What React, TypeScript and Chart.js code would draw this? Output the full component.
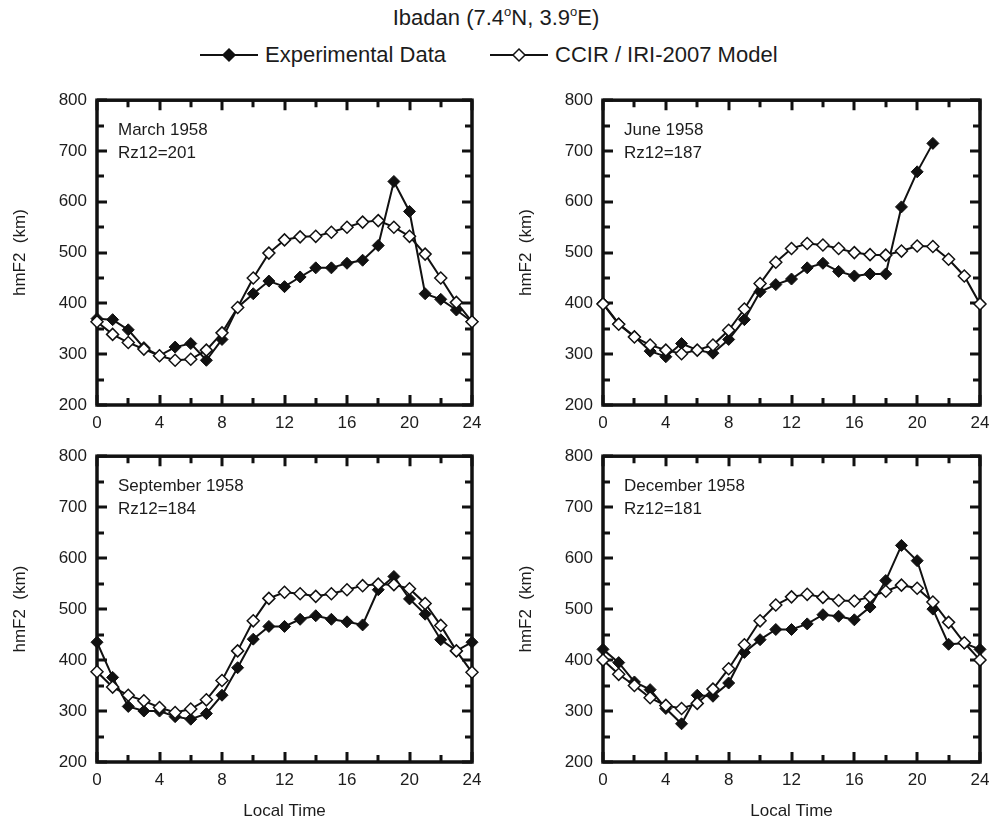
import React, { useEffect, useRef } from "react";
import { Chart, registerables } from "chart.js";

Chart.register(...registerables);

const hours = [0, 1, 2, 3, 4, 5, 6, 7, 8, 9, 10, 11, 12, 13, 14, 15, 16, 17, 18, 19, 20, 21, 22, 23, 24];

const marchExp = [370, 368, 348, 313, 297, 314, 321, 288, 329, 392, 419, 444, 433, 452, 470, 470, 479, 485, 514, 640, 581, 419, 408, 387, 364];
const marchModel = [364, 339, 323, 310, 297, 288, 290, 308, 342, 392, 450, 499, 525, 531, 532, 540, 550, 560, 563, 550, 532, 497, 450, 402, 364];

const juneExp = [400, 360, 335, 306, 295, 321, 308, 302, 329, 368, 423, 437, 448, 470, 479, 463, 454, 458, 458, 590, 659, 715];
const juneModel = [399, 359, 334, 318, 308, 301, 308, 318, 347, 389, 439, 481, 508, 518, 515, 508, 500, 496, 495, 503, 513, 512, 487, 454, 399];

const septExp = [435, 366, 309, 300, 300, 289, 284, 295, 331, 385, 441, 466, 466, 480, 487, 480, 475, 469, 538, 564, 520, 490, 440, 418, 435];
const septModel = [377, 347, 331, 320, 307, 297, 304, 322, 360, 418, 477, 521, 533, 530, 525, 530, 538, 546, 549, 548, 540, 511, 468, 418, 376];

const decExp = [421, 395, 357, 342, 305, 275, 331, 329, 355, 415, 440, 460, 460, 471, 489, 486, 479, 504, 556, 625, 595, 500, 431, 433, 421];
const decModel = [400, 372, 350, 326, 311, 305, 315, 343, 383, 430, 477, 508, 524, 529, 523, 517, 516, 524, 535, 547, 541, 514, 474, 434, 400];

const xMin = 0;
const xMax = 24;
const xStep = 4;
const xMinorStep = 2;
const yMin = 200;
const yMax = 800;
const yStep = 100;
const yMinorStep = 50;

const INK = "#111111";
const TXT = "#1c1c1c";
const FAMILY = "'Liberation Sans', Arial, Helvetica, sans-serif";

type PanelCfg = {
  name: string;
  rz: string;
  exp: number[];
  model: number[];
  left: number;
  top: number;
  plotW: number;
  plotH: number;
  bottom: boolean;
};

const panels: PanelCfg[] = [
  { name: "March 1958", rz: "Rz12=201", exp: marchExp, model: marchModel, left: 0, top: 80, plotW: 375, plotH: 310, bottom: false },
  { name: "June 1958", rz: "Rz12=187", exp: juneExp, model: juneModel, left: 506, top: 80, plotW: 377, plotH: 310, bottom: false },
  { name: "September 1958", rz: "Rz12=184", exp: septExp, model: septModel, left: 0, top: 436, plotW: 375, plotH: 311, bottom: true },
  { name: "December 1958", rz: "Rz12=181", exp: decExp, model: decModel, left: 506, top: 436, plotW: 377, plotH: 311, bottom: true },
];

const PAD_TOP = 15;
const PAD_RIGHT = 20;
const Y_AXIS_W = 97;

const framePlugin = {
  id: "frameTicks",
  beforeDatasetsDraw(chart: any) {
    const ctx = chart.ctx;
    const a = chart.chartArea;
    const xs = chart.scales.x;
    const ys = chart.scales.y;
    ctx.save();
    ctx.strokeStyle = INK;
    ctx.lineWidth = 3;
    for (let h = xMin; h <= xMax; h += xMinorStep) {
      const px = Math.round(xs.getPixelForValue(h));
      const len = h % xStep === 0 ? 10 : 7;
      ctx.beginPath();
      ctx.moveTo(px, a.bottom);
      ctx.lineTo(px, a.bottom - len);
      ctx.moveTo(px, a.top);
      ctx.lineTo(px, a.top + len);
      ctx.stroke();
    }
    for (let v = yMin; v <= yMax; v += yMinorStep) {
      const py = Math.round(ys.getPixelForValue(v));
      const len = v % yStep === 0 ? 10 : 7;
      ctx.beginPath();
      ctx.moveTo(a.left, py);
      ctx.lineTo(a.left + len, py);
      ctx.moveTo(a.right, py);
      ctx.lineTo(a.right - len, py);
      ctx.stroke();
    }
    ctx.lineWidth = 3.5;
    ctx.strokeRect(a.left, a.top, a.right - a.left, a.bottom - a.top);
    ctx.restore();
  },
};

function Panel({ cfg }: { cfg: PanelCfg }) {
  const ref = useRef<HTMLCanvasElement>(null);
  const width = Y_AXIS_W + cfg.plotW + PAD_RIGHT;
  const xH = cfg.bottom ? 60 : 30;
  const height = PAD_TOP + cfg.plotH + xH;

  useEffect(() => {
    const canvas = ref.current;
    if (!canvas) return;
    const chart = new Chart(canvas, {
      type: "line",
      data: {
        datasets: [
          {
            label: "CCIR / IRI-2007 Model",
            data: cfg.model.map((v, i) => ({ x: hours[i], y: v })),
            order: 1,
            borderColor: INK,
            borderWidth: 2,
            pointStyle: "rectRot",
            pointRadius: 6,
            pointBackgroundColor: "#ffffff",
            pointBorderColor: INK,
            pointBorderWidth: 1.5,
            tension: 0,
            clip: false,
          } as any,
          {
            label: "Experimental Data",
            data: cfg.exp.map((v, i) => ({ x: hours[i], y: v })),
            order: 2,
            borderColor: INK,
            borderWidth: 2,
            pointStyle: "rectRot",
            pointRadius: 6,
            pointBackgroundColor: INK,
            pointBorderColor: INK,
            pointBorderWidth: 1,
            tension: 0,
            clip: false,
          } as any,
        ],
      },
      options: {
        responsive: false,
        animation: false,
        devicePixelRatio: 1,
        layout: { padding: { top: PAD_TOP, right: PAD_RIGHT, left: 0, bottom: 0 } },
        plugins: { legend: { display: false }, tooltip: { enabled: false }, title: { display: false } },
        scales: {
          x: {
            type: "linear",
            min: xMin,
            max: xMax,
            ticks: {
              stepSize: xStep,
              padding: 8,
              color: TXT,
              font: { size: 17, family: FAMILY },
              maxRotation: 0,
              autoSkip: false,
            },
            grid: { display: false, drawTicks: false },
            border: { display: false },
            title: cfg.bottom
              ? { display: true, text: "Local Time", color: TXT, font: { size: 17, family: FAMILY }, padding: { top: 0, bottom: 0 } }
              : { display: false },
            afterFit: (s: any) => {
              s.height = xH;
            },
          },
          y: {
            type: "linear",
            min: yMin,
            max: yMax,
            ticks: {
              stepSize: yStep,
              padding: 10,
              color: TXT,
              font: { size: 17, family: FAMILY },
            },
            grid: { display: false, drawTicks: false },
            border: { display: false },
            title: {
              display: true,
              text: "hmF2  (km)",
              color: TXT,
              font: { size: 17, family: FAMILY },
              padding: { top: 10, bottom: 0 },
            },
            afterFit: (s: any) => {
              s.width = Y_AXIS_W;
            },
          },
        },
      } as any,
      plugins: [framePlugin],
    });
    return () => chart.destroy();
  }, [cfg]);

  const plotLeft = cfg.left + Y_AXIS_W;
  const plotTop = cfg.top + PAD_TOP;

  return (
    <>
      <canvas
        ref={ref}
        width={width}
        height={height}
        style={{ position: "absolute", left: cfg.left, top: cfg.top, width, height }}
      />
      <div
        style={{
          position: "absolute",
          left: plotLeft + 21,
          top: plotTop + 23,
          fontFamily: FAMILY,
          fontSize: 17,
          lineHeight: "23px",
          color: TXT,
          whiteSpace: "nowrap",
        }}
      >
        <div>{cfg.name}</div>
        <div>{cfg.rz}</div>
      </div>
    </>
  );
}

function LegendSymbol({ filled }: { filled: boolean }) {
  return (
    <svg width={58} height={16} style={{ display: "block" }}>
      <line x1={0} y1={8} x2={58} y2={8} stroke={INK} strokeWidth={2} />
      <polygon
        points="29,2 35,8 29,14 23,8"
        fill={filled ? INK : "#ffffff"}
        stroke={INK}
        strokeWidth={1.5}
      />
    </svg>
  );
}

export default function App() {
  return (
    <div
      style={{
        position: "fixed",
        left: 0,
        top: 0,
        width: 992,
        height: 825,
        background: "#ffffff",
        overflow: "hidden",
      }}
    >
      <div
        style={{
          position: "absolute",
          left: 0,
          top: 5,
          width: 992,
          textAlign: "center",
          fontFamily: FAMILY,
          fontSize: 22,
          lineHeight: "26px",
          color: TXT,
        }}
      >
        Ibadan (7.4<sup style={{ fontSize: 13, verticalAlign: "9px", lineHeight: 0 }}>o</sup>N, 3.9
        <sup style={{ fontSize: 13, verticalAlign: "9px", lineHeight: 0 }}>o</sup>E)
      </div>
      <div style={{ position: "absolute", left: 200, top: 47 }}>
        <LegendSymbol filled={true} />
      </div>
      <div
        style={{
          position: "absolute",
          left: 265,
          top: 41,
          fontFamily: FAMILY,
          fontSize: 22,
          lineHeight: "28px",
          color: TXT,
          whiteSpace: "nowrap",
        }}
      >
        Experimental Data
      </div>
      <div style={{ position: "absolute", left: 490, top: 47 }}>
        <LegendSymbol filled={false} />
      </div>
      <div
        style={{
          position: "absolute",
          left: 555,
          top: 41,
          fontFamily: FAMILY,
          fontSize: 22,
          lineHeight: "28px",
          color: TXT,
          whiteSpace: "nowrap",
        }}
      >
        CCIR / IRI-2007 Model
      </div>
      {panels.map((p) => (
        <Panel key={p.name} cfg={p} />
      ))}
    </div>
  );
}
